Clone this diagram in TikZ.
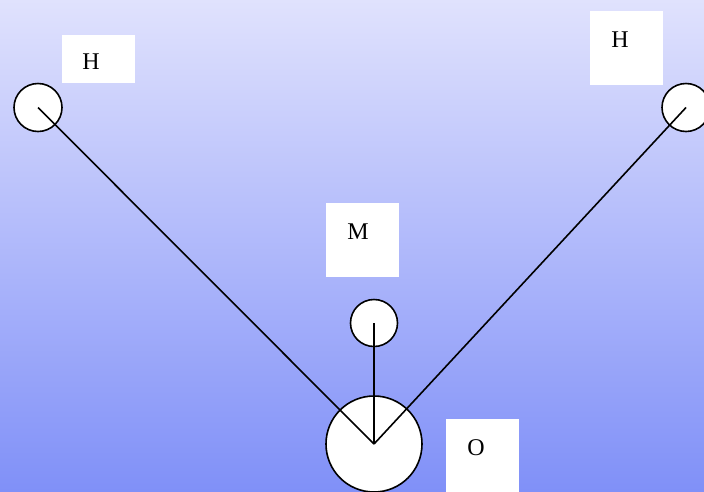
\documentclass[tikz,border=0pt]{standalone}
\usepackage{fontspec}
\setmainfont{Liberation Serif}
\begin{document}
\begin{tikzpicture}[x=1pt,y=-1pt,
  atom/.style={circle,draw=black,line width=1.6pt,fill=white,inner sep=0pt},
  labbox/.style={rectangle,fill=white,inner sep=0pt,minimum width=73pt,minimum height=74pt},
  lab/.style={inner sep=0pt,font=\fontsize{24}{24}\selectfont},
  bond/.style={line width=1.6pt}]
\useasboundingbox (0,0) rectangle (704,491);
\shade[top color={rgb,255:red,224;green,226;blue,253},bottom color={rgb,255:red,128;green,144;blue,248}] (0,0) rectangle (704,491);
% boxes
\node[labbox,minimum height=48pt] (bhl) at (98.5,59) {};
\node[labbox] (bhr) at (626,48) {};
\node[labbox] (bm) at (362,240) {};
\node[labbox] (bo) at (482,456) {};
\node[lab] (thl) at (91,62) {H};
\node[lab] (thr) at (620,40) {H};
\node[lab] (tm) at (358,232) {M};
\node[lab] (to) at (476,448) {O};
% atoms
\node[atom,minimum size=48pt] (hl) at (38,107.5) {};
\node[atom,minimum size=48pt] (hr) at (686,107.5) {};
\node[atom,minimum size=47pt] (m) at (374,323) {};
\node[atom,minimum size=96pt] (o) at (374,444) {};
% bonds
\draw[bond] (hl.center) -- (o.center);
\draw[bond] (hr.center) -- (o.center);
\draw[bond] (m.center) -- (o.center);
\end{tikzpicture}
\end{document}
